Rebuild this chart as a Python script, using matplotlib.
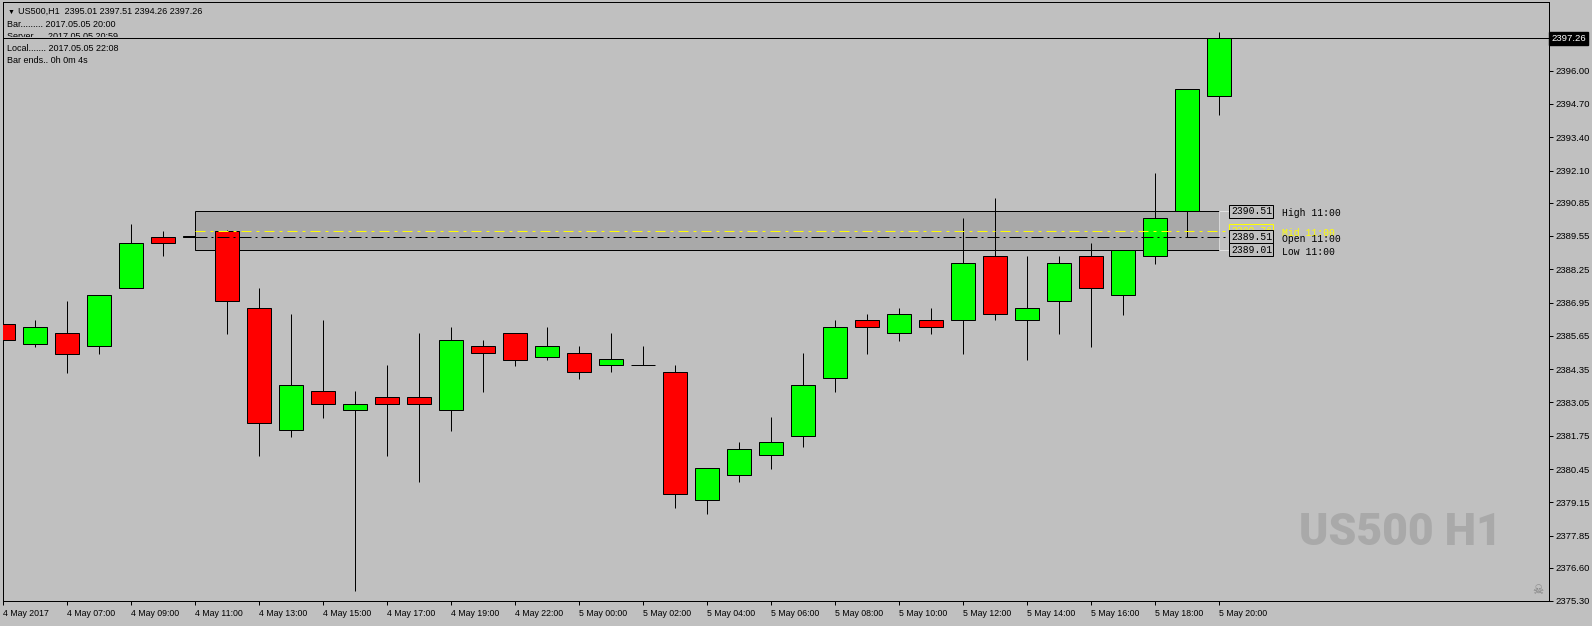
import matplotlib
matplotlib.use("Agg")
import numpy as np
import matplotlib.pyplot as plt
import matplotlib.transforms as mtransforms
from matplotlib.patches import Rectangle

# US500 H1 bars, 4 May 05:00 .. 5 May 20:00 (no 21:00 bar)
opens = [2386.11, 2385.35, 2385.75, 2385.25, 2387.51, 2389.50, 2389.51, 2389.75,
         2386.73, 2381.96, 2383.49, 2382.75, 2383.25, 2383.25, 2382.75, 2385.25,
         2385.75, 2384.84, 2384.97, 2384.50, 2384.50, 2384.23, 2379.23, 2380.21,
         2380.99, 2381.73, 2384.00, 2386.26, 2385.75, 2386.26, 2386.26, 2388.76,
         2386.26, 2387.00, 2388.76, 2387.24, 2388.76, 2390.52, 2395.01]
highs = [2386.27, 2386.27, 2387.02, 2387.24, 2390.02, 2389.75, 2390.51, 2389.80,
         2387.52, 2386.51, 2386.27, 2383.50, 2384.52, 2385.77, 2386.00, 2385.49,
         2385.75, 2386.00, 2385.26, 2385.77, 2385.26, 2384.52, 2380.48, 2381.51,
         2382.48, 2384.98, 2386.27, 2386.51, 2386.74, 2386.74, 2390.26, 2391.04,
         2388.77, 2388.77, 2389.28, 2389.00, 2392.00, 2395.29, 2397.51]
lows = [2385.23, 2385.23, 2384.21, 2384.96, 2387.51, 2388.75, 2389.01, 2385.74,
        2380.97, 2381.71, 2382.46, 2375.70, 2380.97, 2379.96, 2381.95, 2383.47,
        2384.49, 2384.72, 2383.98, 2384.23, 2384.50, 2378.94, 2378.71, 2379.96,
        2380.46, 2381.32, 2383.47, 2384.96, 2385.46, 2385.74, 2384.96, 2386.26,
        2384.72, 2385.74, 2385.23, 2386.48, 2388.47, 2389.50, 2394.26]
closes = [2385.48, 2385.99, 2384.96, 2387.24, 2389.27, 2389.27, 2389.53, 2387.00,
          2382.24, 2383.72, 2382.98, 2382.98, 2382.98, 2382.98, 2385.48, 2384.97,
          2384.72, 2385.25, 2384.23, 2384.74, 2384.50, 2379.47, 2380.48, 2381.22,
          2381.50, 2383.72, 2385.99, 2385.99, 2386.50, 2385.99, 2388.49, 2386.50,
          2386.73, 2388.49, 2387.51, 2389.00, 2390.25, 2395.29, 2397.26]

tick_pos = [0, 2, 4, 6, 8, 10, 12, 14, 16, 18, 20, 22, 24, 26, 28, 30, 32, 34, 36, 38]
tick_labels = ['4 May 2017', '4 May 07:00', '4 May 09:00', '4 May 11:00', '4 May 13:00',
               '4 May 15:00', '4 May 17:00', '4 May 19:00', '4 May 22:00', '5 May 00:00',
               '5 May 02:00', '5 May 04:00', '5 May 06:00', '5 May 08:00', '5 May 10:00',
               '5 May 12:00', '5 May 14:00', '5 May 16:00', '5 May 18:00', '5 May 20:00']
price_ticks = [2396.00, 2394.70, 2393.40, 2392.10, 2390.85, 2389.55, 2388.25, 2386.95,
               2385.65, 2384.35, 2383.05, 2381.75, 2380.45, 2379.15, 2377.85, 2376.60,
               2375.30]

info_lines = ['Bar......... 2017.05.05 20:00',
              'Server..... 2017.05.05 20:59',
              'Local....... 2017.05.05 22:08',
              'Bar ends.. 0h 0m 4s']
hl_bar = 6          # the 11:00 bar used for the High/Low box
symbol = 'US500,H1'

BG = '#c0c0c0'
W, H = 1592, 626
LW = 0.72
sans = ['Liberation Sans', 'DejaVu Sans']
mono = ['Liberation Mono', 'DejaVu Sans Mono']

o = np.array(opens); h = np.array(highs); l = np.array(lows); c = np.array(closes)
idx = np.arange(len(o))
last = len(o) - 1

fig = plt.figure(figsize=(W / 100, H / 100), dpi=100, facecolor=BG)
ax = fig.add_axes([2.5 / W, 1 - 601 / H, (1549 - 2.5) / W, (601 - 2) / H])
ax.set_facecolor(BG)
ax.set_xlim(-0.025, 48.30)
ax.set_ylim(2375.32, 2398.68)
for s in ax.spines.values():
    s.set_color('black')
    s.set_linewidth(LW)

# pixel transform, origin top-left
pix = mtransforms.Affine2D().scale(1 / W, -1 / H).translate(0, 1) + fig.transFigure

# candles
up = c >= o
body_lo = np.minimum(o, c)
body_h = np.abs(c - o)
colors = np.where(up, '#00ff00', '#ff0000')
main = idx != hl_bar
ax.vlines(idx[main], l[main], h[main], color='black', lw=LW, zorder=2.5)
ax.bar(idx[main], body_h[main], bottom=body_lo[main], width=0.75, color=colors[main],
       edgecolor='black', linewidth=LW, zorder=3)
ax.vlines(idx[hl_bar], l[hl_bar], h[hl_bar], color='black', lw=LW, zorder=0.9)
ax.bar(idx[hl_bar], body_h[hl_bar], bottom=body_lo[hl_bar], width=0.75,
       color=colors[hl_bar], edgecolor='black', linewidth=LW, zorder=1)

# high/low box of the 11:00 bar
bh, bl, bo = h[hl_bar], l[hl_bar], o[hl_bar]
bm = (bh + bl) / 2
ax.add_patch(Rectangle((hl_bar, bl), last - hl_bar, bh - bl, facecolor='#a9a9a9',
                       edgecolor='none', zorder=2))
ax.hlines([bh, bl], hl_bar, last, color='black', lw=LW, zorder=2.2)
ax.vlines(hl_bar, bl, bh, color='black', lw=LW, zorder=2.2)
ax.vlines(last, bl, bh, color='#d8d8d8', lw=LW, zorder=2.2)
lab_x = last + 0.36
ax.hlines([bh, bl], last, lab_x, color='#e0e0e0', lw=LW, zorder=2.2)
ax.plot([hl_bar, lab_x], [bm, bm], color='#ffff00', lw=LW, ls=(0, (10, 5, 3, 5)), zorder=4)
ax.plot([hl_bar, lab_x], [bo, bo], color='black', lw=LW, ls=(0, (12, 4, 2, 4)), zorder=4)

def price_box(y, col, z):
    ax.text(lab_x, y, '%.2f' % y, family=mono, fontsize=7, color=col, ha='left',
            va='center', zorder=z,
            bbox=dict(boxstyle='square,pad=0.15', fc=BG, ec=col, lw=LW))

price_box(bh, 'black', 5)
price_box(bm, '#ffff00', 5)
price_box(bo, 'black', 6)
price_box(bl, 'black', 6)
name_x = last + 1.96
off = mtransforms.offset_copy(ax.transData, fig=fig, x=0, y=-2, units='dots')
for y, txt, col in [(bh, 'High 11:00', 'black'), (bm, 'Mid 11:00', '#ffff00'),
                    (bo, 'Open 11:00', 'black'), (bl, 'Low 11:00', 'black')]:
    ax.text(name_x, y, txt, family=mono, fontsize=7, color=col, ha='left',
            va='center', transform=off, zorder=6)

# current price line and label
ax.axhline(c[last], color='black', lw=LW, zorder=8)
ax.text(1.0015, c[last], '%.2f' % c[last],
        transform=mtransforms.blended_transform_factory(ax.transAxes, ax.transData),
        color='white', fontsize=6.8, family=sans, ha='left', va='center', zorder=9,
        clip_on=False, bbox=dict(boxstyle='square,pad=0.2', fc='black', ec='black'))

# axes ticks
ax.yaxis.tick_right()
ax.set_yticks(price_ticks, ['%.2f' % v for v in price_ticks])
ax.tick_params(axis='y', direction='out', length=3, width=LW, pad=1.5,
               labelsize=6.8, colors='black')
ax.set_xticks(tick_pos, tick_labels)
ax.tick_params(axis='x', direction='out', length=3, width=LW, pad=2.5,
               labelsize=6.3, colors='black')
for t in ax.get_xticklabels() + ax.get_yticklabels():
    t.set_family(sans)
for t in ax.get_xticklabels():
    t.set_ha('left')

# info text, top-left
ax.text(8, 14, '\u25bc', transform=pix, family=sans, fontsize=5, va='baseline', zorder=6)
ax.text(18.3, 14, '%s  %.2f %.2f %.2f %.2f' % (symbol, o[last], h[last], l[last], c[last]),
        transform=pix, family=sans, fontsize=6.5, va='baseline', zorder=6)
for i, line in enumerate(info_lines):
    ax.text(7, 26.7 + 12 * i, line, transform=pix, family=sans, fontsize=6.5,
            va='baseline', zorder=6)
ax.add_patch(Rectangle((4, 36.5), 120, 1.4, transform=pix, facecolor=BG,
                       edgecolor='none', zorder=7, clip_on=False))

# watermark and icon
ax.text(1400, 533, 'US500 H1', transform=pix, family=['Roboto', 'DejaVu Sans'],
        fontweight='black', fontsize=32, color='#a9a9a9', ha='center', va='center',
        zorder=0.5)
ax.text(1538, 590, '\u2620', transform=pix, family=['DejaVu Sans'], fontsize=9,
        color='#808080', ha='center', va='center', zorder=6)

fig.savefig('out.png', dpi=100, facecolor=BG)
